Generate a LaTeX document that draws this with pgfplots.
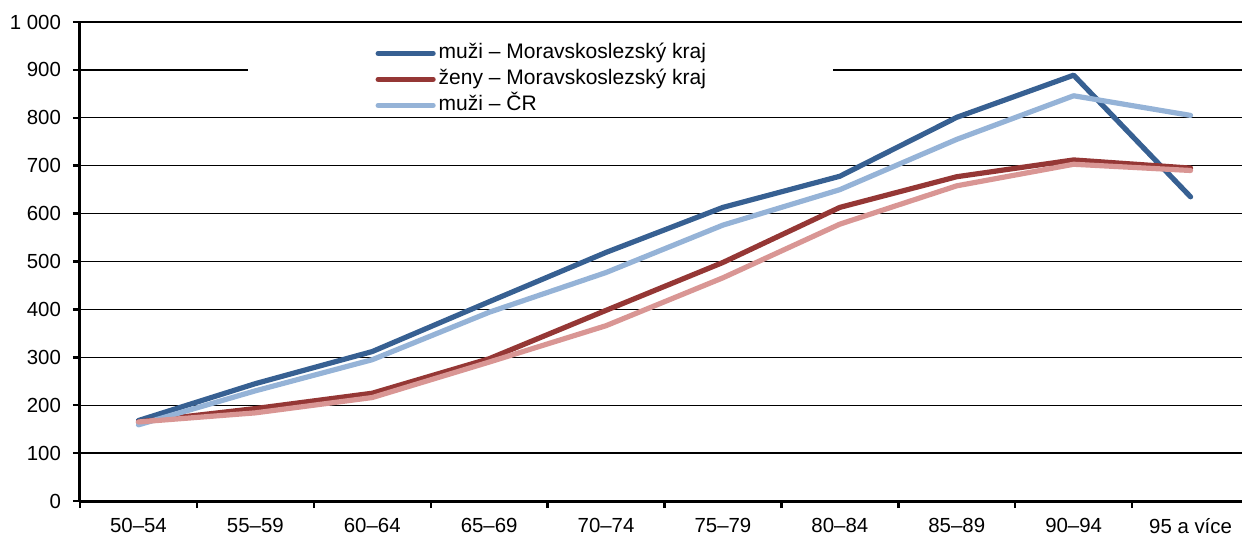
\documentclass[border=0pt]{standalone}
\usepackage{fontspec}
\setmainfont{Liberation Sans}
\usepackage{pgfplots}
\pgfplotsset{compat=1.18}
\definecolor{mskm}{RGB}{55,96,146}
\definecolor{mskz}{RGB}{149,55,53}
\definecolor{crm}{RGB}{149,179,215}
\definecolor{crz}{RGB}{217,150,148}
\newcommand{\lblfont}{\fontsize{10.2}{12}\selectfont}
\newcommand{\legfont}{\fontsize{10.5}{12.5}\selectfont}

\begin{document}
\begin{tikzpicture}
\begin{axis}[
  name=ax, at={(0,0)}, anchor=south west,
  scale only axis, width=581pt, height=239.5pt,
  xmin=-0.5, xmax=9.44, ymin=0, ymax=1000,
  axis x line*=bottom, axis y line*=left,
  axis line style={line width=1.5pt, -},
  tick align=outside,
  xtick={0,...,9},
  xticklabels={50--54,55--59,60--64,65--69,70--74,75--79,80--84,85--89,90--94,95 a více},
  minor xtick={-0.5,0.5,...,8.5},
  major x tick style={draw=none},
  minor x tick style={line width=1.2pt, black},
  minor tick length=3.5pt,
  ytick={0,100,...,1000},
  yticklabels={0,100,200,300,400,500,600,700,800,900,1 000},
  major y tick style={line width=1.2pt, black},
  major tick length=3.5pt,
  ymajorgrids, grid style={black, line width=0.65pt},
  tick label style={font=\lblfont},
  yticklabel style={xshift=-2.5pt},
  xticklabel style={yshift=-1.5pt},
  /pgf/number format/assume math mode=true,
  legend style={at={(0.254,1)}, anchor=north west, yshift=-10.5pt,
    draw=none, fill=none, inner sep=0pt, font=\legfont,
    nodes={inner xsep=1.5pt, inner ysep=0pt, text height=7.5pt, text depth=2.5pt},
    row sep=3pt},
  legend cell align=left,
  legend image code/.code={\draw[#1, line width=2.6pt, line cap=round] (0pt,0pt) -- (27.5pt,0pt);},
  every axis plot/.append style={line width=2.6pt, line cap=round, line join=round},
]
\fill[white] (axis cs:0.937,815) rectangle (axis cs:5.94,965);
\addplot[mskm] coordinates {(0,168) (1,245) (2,312) (3,416) (4,519) (5,613) (6,678) (7,801) (8,889) (9,635)};
\addplot[mskz] coordinates {(0,165) (1,193) (2,225) (3,297) (4,398) (5,498) (6,613) (7,677) (8,712) (9,695)};
\addplot[crm] coordinates {(0,159) (1,230) (2,295) (3,394) (4,477) (5,576) (6,650) (7,755) (8,846) (9,805)};
\addplot[crz, forget plot] coordinates {(0,165) (1,184) (2,216) (3,290) (4,366) (5,466) (6,578) (7,658) (8,703) (9,690)};
\legend{muži -- Moravskoslezský kraj, ženy -- Moravskoslezský kraj, muži -- ČR}
\draw[line width=1.5pt] (rel axis cs:0,1) -- (rel axis cs:1,1);
\end{axis}
\pgfresetboundingbox
\path (-40pt,-17.5pt) rectangle (581pt,250.5pt);
\end{tikzpicture}
\end{document}
